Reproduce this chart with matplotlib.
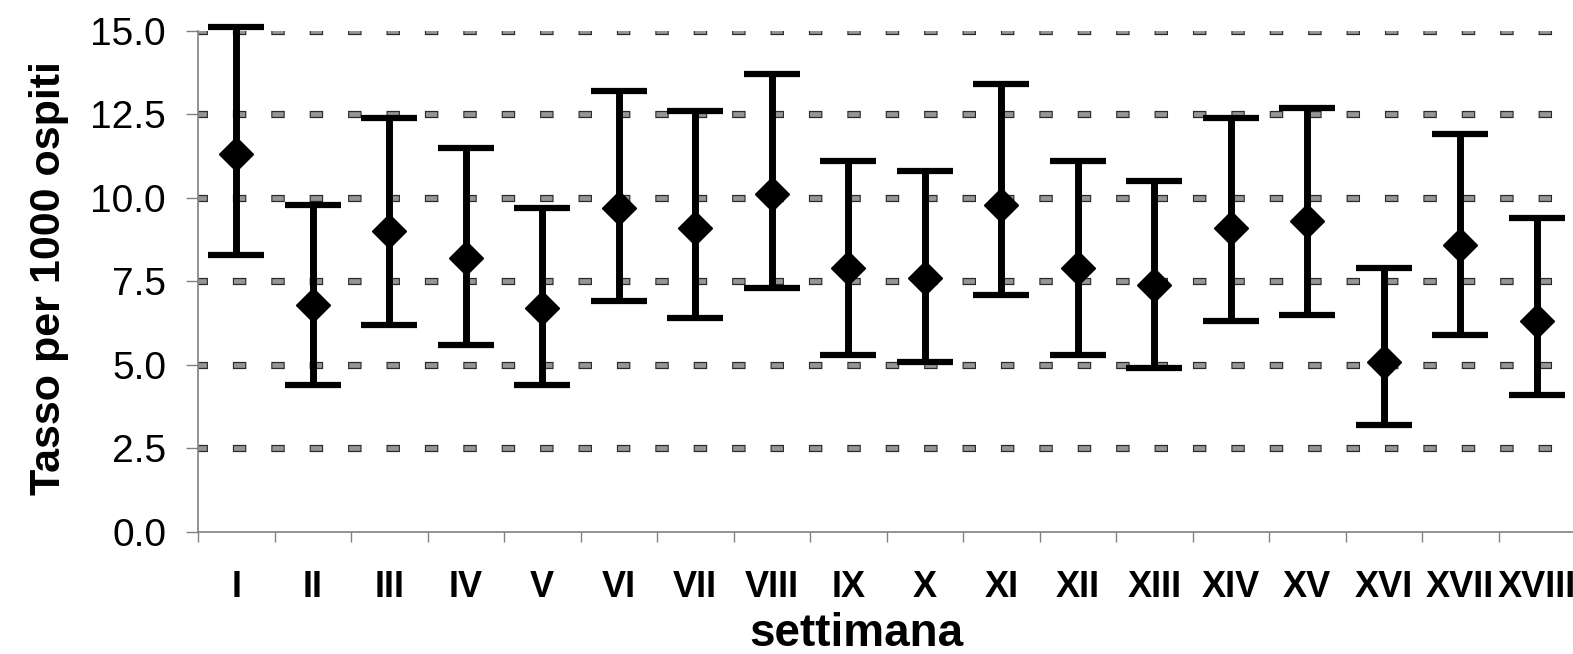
import numpy as np
import matplotlib
matplotlib.use('Agg')
import matplotlib.pyplot as plt

plt.rcParams['font.family'] = ['Liberation Sans', 'DejaVu Sans']
plt.rcParams['lines.scale_dashes'] = False

settimane = ['I', 'II', 'III', 'IV', 'V', 'VI', 'VII', 'VIII', 'IX', 'X',
             'XI', 'XII', 'XIII', 'XIV', 'XV', 'XVI', 'XVII', 'XVIII']
tasso = np.array([11.3, 6.8, 9.0, 8.2, 6.7, 9.7, 9.1, 10.1, 7.9, 7.6,
                  9.8, 7.9, 7.4, 9.1, 9.3, 5.1, 8.6, 6.3])
lim_inf = np.array([8.3, 4.4, 6.2, 5.6, 4.4, 6.9, 6.4, 7.3, 5.3, 5.1,
                    7.1, 5.3, 4.9, 6.3, 6.5, 3.2, 5.9, 4.1])
lim_sup = np.array([15.1, 9.8, 12.4, 11.5, 9.7, 13.2, 12.6, 13.7, 11.1, 10.8,
                    13.4, 11.1, 10.5, 12.4, 12.7, 7.9, 11.9, 9.4])
yticks = [0.0, 2.5, 5.0, 7.5, 10.0, 12.5, 15.0]

fig = plt.figure(figsize=(15.73, 6.54), dpi=100)
ax = fig.add_axes([0.1259, 0.1865, 0.8754, 0.7665])

x = np.arange(len(settimane))

# griglia tratteggiata stile Excel (bordo scuro + riempimento grigio)
for yv in yticks[1:]:
    ax.axhline(yv, color='#2a2a2a', lw=5.2, linestyle=(2.9, (9.7, 17.95)),
               dash_capstyle='butt', zorder=1)
    ax.axhline(yv, color='#969696', lw=3.4, linestyle=(2.1, (8.1, 19.55)),
               dash_capstyle='butt', zorder=1.5)

ax.errorbar(x, tasso, yerr=[tasso - lim_inf, lim_sup - tasso], fmt='D',
            color='black', ms=17, elinewidth=5, capsize=20, capthick=4.5,
            clip_on=False, zorder=3)

ax.set_xlim(-0.5, len(settimane) - 0.5)
ax.set_ylim(0, 15)
ax.set_yticks(yticks)
ax.set_yticklabels([f'{v:.1f}' for v in yticks], fontsize=28)
ax.set_xticks(x)
ax.set_xticklabels(settimane, fontsize=26, fontweight='bold')
ax.set_xticks(np.arange(len(settimane) + 1) - 0.5, minor=True)
ax.tick_params(axis='x', which='major', length=0, pad=27)
ax.tick_params(axis='x', which='minor', length=7, width=1, color='#808080')
ax.tick_params(axis='y', length=9, width=1, color='#808080', pad=14)

for s in ['top', 'right']:
    ax.spines[s].set_visible(False)
for s in ['left', 'bottom']:
    ax.spines[s].set_color('#808080')
    ax.spines[s].set_linewidth(1.2)

ax.set_xlabel('settimana', fontsize=33, fontweight='bold')
ax.set_ylabel('Tasso per 1000 ospiti', fontsize=31, fontweight='bold')
ax.xaxis.set_label_coords(0.478, -0.16)
ax.yaxis.set_label_coords(-0.094, 0.507)

fig.savefig('out.png', dpi=100)
